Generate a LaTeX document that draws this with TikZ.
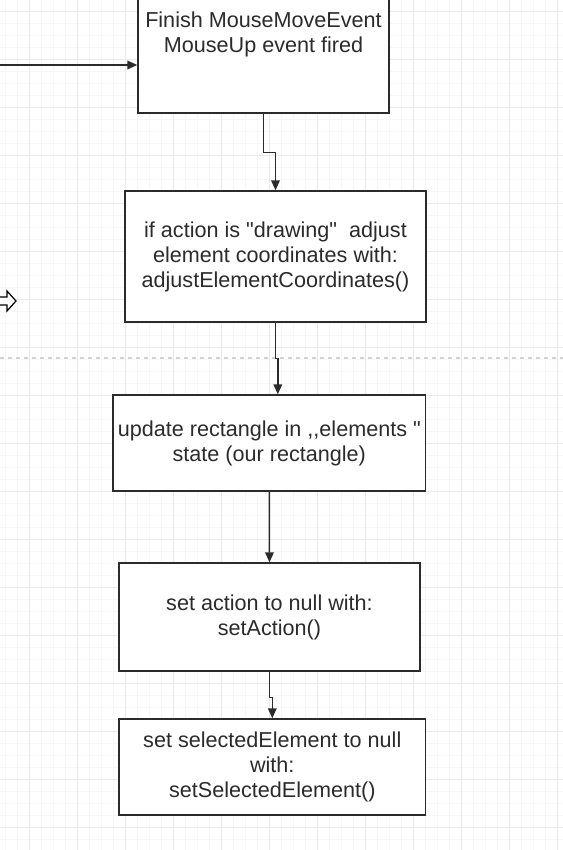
\documentclass[tikz,border=0pt]{standalone}
\usepackage{fontspec}
\setmainfont{Liberation Sans}[Ligatures=TeXOff]
\usetikzlibrary{arrows.meta,calc}
\definecolor{linec}{HTML}{2B2B2B}
\definecolor{gridminor}{HTML}{F7F7F7}
\definecolor{gridmajor}{HTML}{EAEAEA}
\definecolor{dashcol}{HTML}{D2D2D2}
\begin{document}
\begin{tikzpicture}[x=0.75pt,y=-0.75pt,
  box/.style={draw=linec, line width=1.1pt, fill=white, inner sep=0pt, align=center,
    font=\fontsize{16.2}{18.75}\selectfont, text=linec},
  conn/.style={draw=linec, line width=1.1pt, -{Triangle[length=7.5pt,width=6.5pt]}},
  minorline/.style={draw=gridminor, line width=0.5pt},
  majorline/.style={draw=gridmajor, line width=0.7pt}]
\useasboundingbox (0,0) rectangle (563,850);
\clip (0,0) rectangle (563,850);
\fill[white] (0,0) rectangle (563,850);
% grid
\foreach \i in {0,...,47} \draw[minorline] ({5+12*\i},0) -- ({5+12*\i},850);
\foreach \i in {0,...,71} \draw[minorline] (0,{-1+12*\i}) -- (563,{-1+12*\i});
\foreach \i in {0,...,11} \draw[majorline] ({29+48*\i},0) -- ({29+48*\i},850);
\foreach \i in {0,...,17} \draw[majorline] (0,{11+48*\i}) -- (563,{11+48*\i});
% page break line
\draw[dashcol, dashed, line width=0.8pt] (0,358) -- (563,358);
% move cursor (partly visible)
\draw[black, line width=0.9pt, fill=white] (0,297) -- (7,297) -- (7,291) -- (16,301) -- (7,311) -- (7,305) -- (0,305);
% boxes
\node[box, minimum width=188.25pt, minimum height=117.75pt] (b1) at (263.5,34.5)
  {Finish MouseMoveEvent\\MouseUp event fired};
\node[box, minimum width=225.75pt, minimum height=98.25pt] (b2) at (275.5,256.5)
  {if action is "drawing"\ \ adjust\\element coordinates with:\\adjustElementCoordinates()};
\node[box, minimum width=234.5pt, minimum height=72pt] (b3) at (269.3,443)
  {update rectangle in ,,elements "\\state (our rectangle)};
\node[box, minimum width=225.75pt, minimum height=81pt] (b4) at (269.5,617)
  {set action to null with:\\setAction()};
\node[box, minimum width=229.9pt, minimum height=72pt] (b5) at (272.3,767)
  {set selectedElement to null\\with:\\setSelectedElement()};
% connectors
\coordinate (in) at (0,65);
\draw[conn] (in) -- (in -| b1.west);
\draw[conn] (b1.south) -- ++(0,39) -| (b2.north);
\draw[conn] (b2.south) -- ++(0,36) -| ($(b3.north)+(8.5,0)$);
\draw[conn] (b3.south) -- (b4.north);
\draw[conn] (b4.south) -- ++(0,26) -| (b5.north);
\end{tikzpicture}
\end{document}
